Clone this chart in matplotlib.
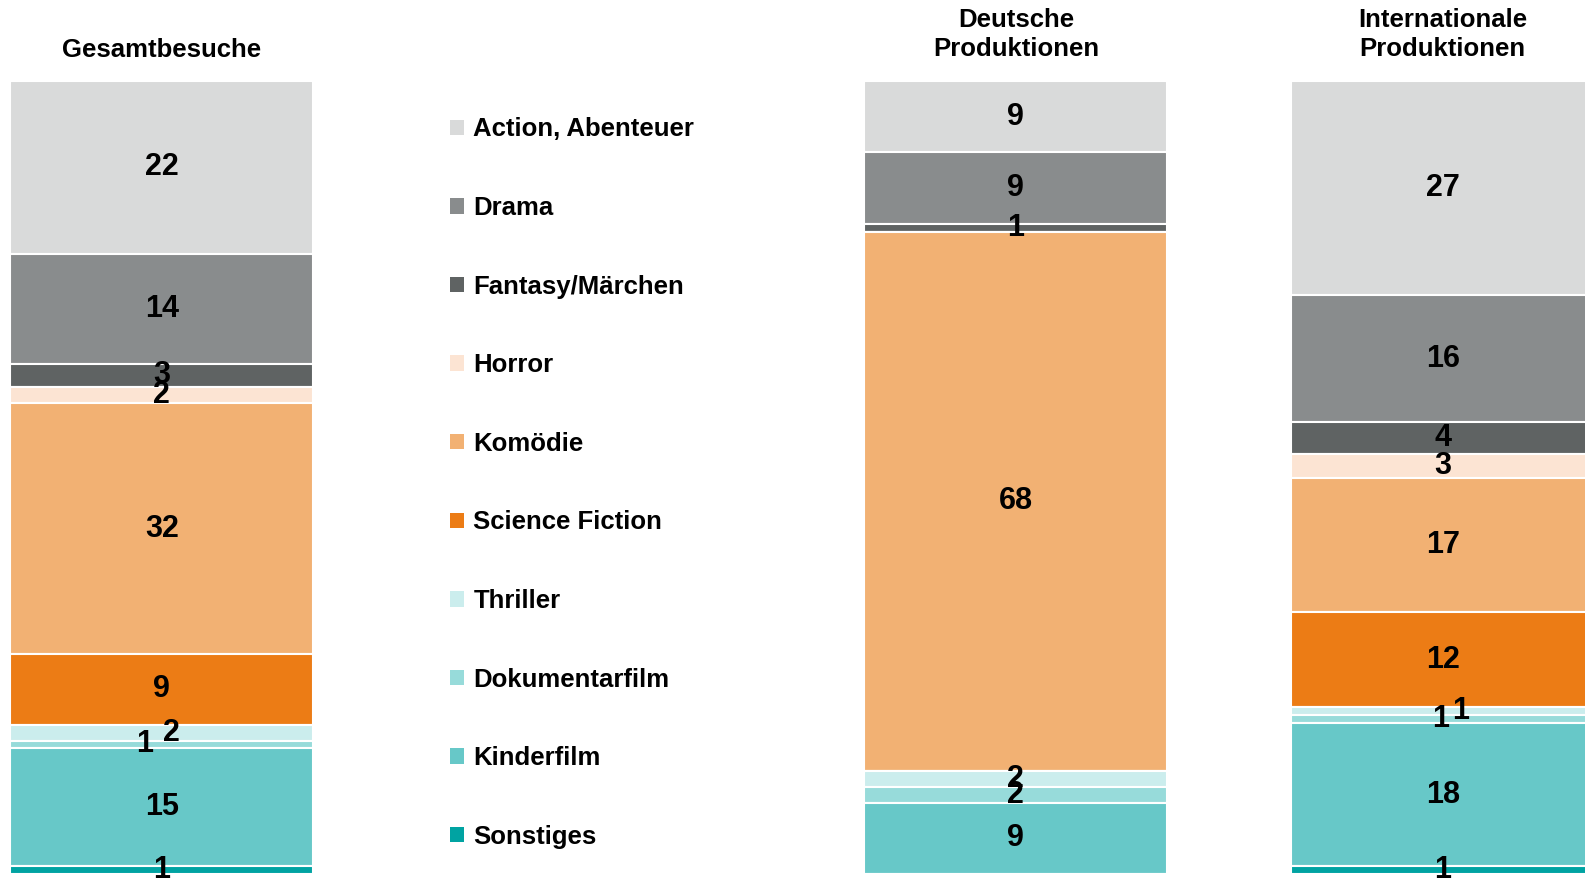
import numpy as np
import matplotlib.pyplot as plt
from matplotlib.patches import Patch
import matplotlib.transforms as mtransforms

genres = ['Action, Abenteuer', 'Drama', 'Fantasy/Märchen', 'Horror', 'Komödie',
          'Science Fiction', 'Thriller', 'Dokumentarfilm', 'Kinderfilm', 'Sonstiges']
gesamt = [22, 14, 3, 2, 32, 9, 2, 1, 15, 1]
deutsch = [9, 9, 1, 0, 68, 0, 2, 2, 9, 0]
international = [27, 16, 4, 3, 17, 12, 1, 1, 18, 1]
groups = ['Gesamtbesuche', 'Deutsche\nProduktionen', 'Internationale\nProduktionen']
colors = ['#D9DADA', '#898C8D', '#5F6363', '#FCE4D3', '#F2B173',
          '#EC7C15', '#CBEDED', '#97DBDA', '#67C8C8', '#00A3A2']

plt.rcParams['font.family'] = ['Liberation Sans', 'DejaVu Sans']

fig = plt.figure(figsize=(15.85, 8.83), dpi=100)
ax = fig.add_axes([0, 0.0102, 1, 0.898])

x = [0, 2, 3]
data = np.array([gesamt, deutsch, international], dtype=float)
shares = data / data.sum(axis=1, keepdims=True) * 100

# small horizontal nudges (pixels) for crowded labels
nudge = {(0, 6): 10, (0, 7): -17, (2, 6): 18, (2, 7): -2}

bottom = np.zeros(3)
for i, g in enumerate(genres):
    ax.bar(x, shares[:, i], 0.71, bottom=bottom, color=colors[i],
           edgecolor='white', linewidth=1.5, label=g)
    for j in range(3):
        if data[j, i] > 0:
            ax.annotate('%d' % data[j, i], (x[j], bottom[j] + shares[j, i] / 2),
                        xytext=(nudge.get((j, i), 0) * 0.72, 0), textcoords='offset points',
                        ha='center', va='center', fontsize=22, fontweight='bold')
    bottom += shares[:, i]

ax.set_ylim(100, 0)
ax.set_xlim(-0.379, 3.333)
ax.axis('off')

trans = mtransforms.blended_transform_factory(ax.transData, fig.transFigure)
ax.text(x[0], 0.943, groups[0], transform=trans, ha='center', va='center',
        fontsize=18.5, fontweight='bold')
for j in (1, 2):
    ax.text(x[j], 0.961, groups[j], transform=trans, ha='center', va='center',
            fontsize=18.5, fontweight='bold', linespacing=1.3)

handles = [Patch(facecolor=c, edgecolor='none') for c in colors]
fig.legend(handles, genres, loc='upper left', bbox_to_anchor=(0.284, 0.867),
           frameon=False, borderpad=0, borderaxespad=0,
           handlelength=0.55, handleheight=0.55, handletextpad=0.35,
           labelspacing=2.125, prop={'size': 18.5, 'weight': 'bold'})

fig.savefig('out.png', dpi=100)
